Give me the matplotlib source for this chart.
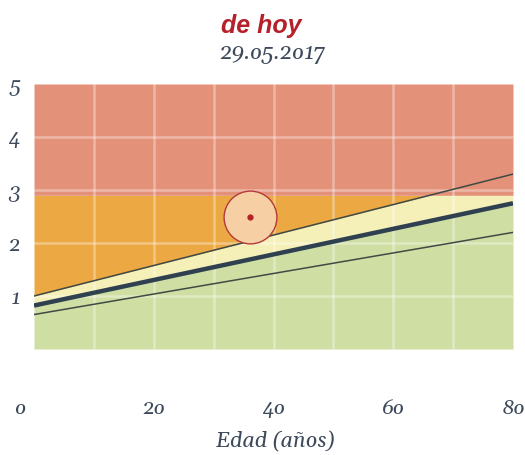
import numpy as np
import matplotlib
matplotlib.use("Agg")
import matplotlib.pyplot as plt
from matplotlib.transforms import ScaledTranslation
from matplotlib import font_manager as fm

# ---- data ----
ages = [0, 80]
upper_line = [1.0, 3.3]
middle_line = [0.82, 2.75]
lower_line = [0.65, 2.2]
threshold = 2.9
y_max = 5
point_age = [36]
point_value = [2.5]
x_ticks = [0, 20, 40, 60, 80]
x_tick_labels = ["o", "2o", "4o", "6o", "8o"]
y_ticks = [1, 2, 3, 4, 5]
y_tick_labels = ["1", "2", "3", "4", "5"]
title = "de hoy"
subtitle = "29.o5.2o17"
xlabel = "Edad (años)"


def find_font(names, style="italic", weights=(400, "normal", "regular", "400")):
    for n in names:
        for f in fm.fontManager.ttflist:
            if f.name == n and f.style == style and f.weight in weights:
                return f.fname
    return None


serif_it = find_font(["Gelasio", "Noto Serif", "DejaVu Serif"])


def sp(size):
    if serif_it:
        return fm.FontProperties(fname=serif_it, size=size)
    return fm.FontProperties(family="DejaVu Serif", style="italic", size=size)


W, H = 525, 455
fig = plt.figure(figsize=(W / 100, H / 100), dpi=100)
ax = fig.add_axes([34 / W, 1 - 349 / H, (513 - 34) / W, (349 - 84) / H])

red = "#E4917A"
orange = "#EBA843"
yellow = "#F5F0B8"
green = "#CFDFA4"
text_col = "#3D4A5C"

xs = np.linspace(ages[0], ages[-1], 801)
up = np.interp(xs, ages, upper_line)
mid = np.interp(xs, ages, middle_line)
cap = np.minimum(up, threshold)

ax.fill_between(xs, 0, mid, color=green, lw=0, zorder=1)
ax.fill_between(xs, mid, cap, color=yellow, lw=0, zorder=1)
ax.fill_between(xs, cap, threshold, color=orange, lw=0, zorder=1)
ax.fill_between(xs, threshold, y_max, color=red, lw=0, zorder=1)

# grid
for gx in range(10, 80, 10):
    ax.axvline(gx, color="white", alpha=0.35, lw=1.8, zorder=2)
for gy in y_ticks[:-1]:
    ax.axhline(gy, color="white", alpha=0.35, lw=1.8, zorder=2)

ax.plot(ages, upper_line, color="#3F4A44", lw=1.1, zorder=3)
ax.plot(ages, lower_line, color="#3F4A44", lw=1.1, zorder=3)
ax.plot(ages, middle_line, color="#2F4050", lw=3.2, zorder=3, solid_capstyle="butt")

ax.plot(point_age, point_value, marker="o", ms=38, mfc="#F6D0A4", mec="#B43A3A",
        mew=1.0, ls="none", zorder=4)
ax.plot(point_age, point_value, marker="o", ms=3.5, mfc="#B5202A", mec="#B5202A",
        ls="none", zorder=5)

ax.set_xlim(0, 80)
ax.set_ylim(0, y_max)
for s in ax.spines.values():
    s.set_visible(False)

ax.set_xticks(x_ticks)
ax.set_xticklabels(x_tick_labels, fontproperties=sp(15), color=text_col)
ax.set_yticks(y_ticks)
ax.set_yticklabels(y_tick_labels, fontproperties=sp(15), color=text_col)
ax.tick_params(axis="x", length=0, pad=36)
ax.tick_params(axis="y", length=0, pad=10)
lbl0 = ax.get_xticklabels()[0]
lbl0.set_transform(lbl0.get_transform() + ScaledTranslation(-14 / 100, 0, fig.dpi_scale_trans))

fig.text(275 / W, 1 - 442 / H, xlabel, fontproperties=sp(15.5),
         color=text_col, ha="center", va="center")
fig.text(261 / W, 1 - 26 / H, title, family=["Liberation Sans", "DejaVu Sans"],
         style="italic", weight="bold", fontsize=18, color="#B5202A", ha="center", va="center")
fig.text(272 / W, 1 - 54 / H, subtitle, fontproperties=sp(16),
         color=text_col, ha="center", va="center")

fig.savefig("out.png", dpi=100)
